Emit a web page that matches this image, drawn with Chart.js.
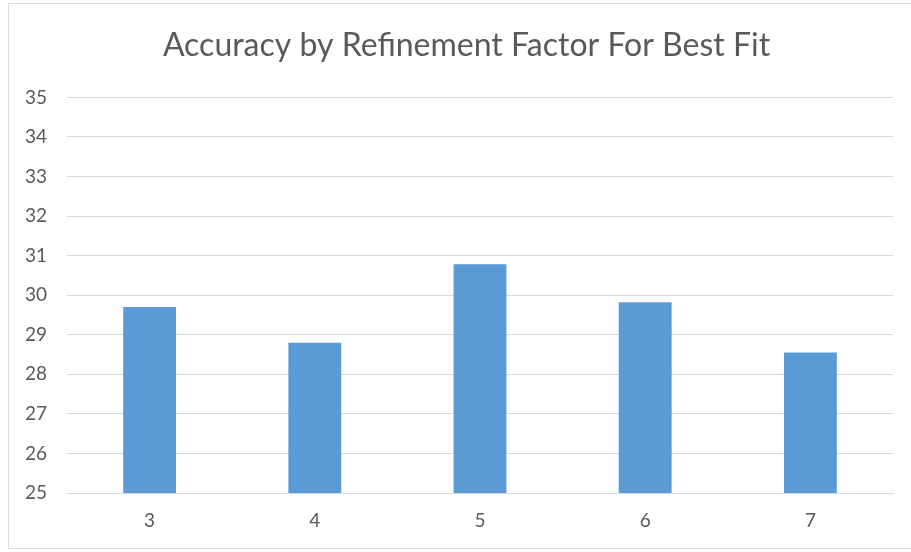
<!DOCTYPE html>
<html>
<head>
<meta charset="utf-8">
<script src="https://cdn.jsdelivr.net/npm/chart.js@4"></script>
<style>
  html, body { margin: 0; padding: 0; background: #fff; }
  #wrap { position: relative; width: 911px; height: 552px; }
  #frame {
    position: absolute; left: 8px; top: 3px; width: 920px; height: 546px;
    border: 1px solid #d9d9d9; box-sizing: border-box; pointer-events: none;
  }
</style>
</head>
<body>
<div id="wrap">
  <canvas id="myChart" width="911" height="552"></canvas>
  <div id="frame"></div>
</div>
<script>
  const factors = ["3", "4", "5", "6", "7"];
  const accuracy = [29.70, 28.80, 30.78, 29.82, 28.55];
  const yTicks = { min: 25, max: 35, step: 1 };

  const textColor = "#595959";
  const gridColor = "#d9d9d9";
  const fontFamily = "Lato, 'Open Sans', sans-serif";

  // title is centred over the plot area rather than the whole canvas
  const titleOverPlot = {
    id: "titleOverPlot",
    afterLayout(chart) {
      const t = chart.titleBlock;
      if (t) {
        t.left = chart.chartArea.left - 27;
        t.right = chart.chartArea.right;
      }
    },
  };

  const ctx = document.getElementById("myChart").getContext("2d");

  const chart = new Chart(ctx, {
    type: "bar",
    data: {
      labels: factors,
      datasets: [
        {
          label: "Accuracy",
          data: accuracy,
          backgroundColor: "#5b9bd5",
          borderWidth: 0,
          categoryPercentage: 1,
          barPercentage: 0.32,
        },
      ],
    },
    options: {
      responsive: false,
      animation: false,
      layout: {
        padding: { left: 0, right: 18, top: 0, bottom: 0 },
      },
      plugins: {
        legend: { display: false },
        tooltip: { enabled: false },
        title: {
          display: true,
          text: "Accuracy by Refinement Factor For Best Fit",
          color: textColor,
          font: { family: fontFamily, size: 32, weight: "normal", lineHeight: 1.2 },
          padding: { top: 26, bottom: 33 },
        },
      },
      scales: {
        x: {
          grid: { display: false, drawTicks: false },
          border: { display: true, color: gridColor, width: 1 },
          ticks: {
            color: textColor,
            font: { family: fontFamily, size: 19 },
            padding: 16,
          },
          afterFit: (scale) => {
            scale.height = 59;
          },
        },
        y: {
          min: yTicks.min,
          max: yTicks.max,
          border: { display: false },
          grid: { color: gridColor, drawTicks: false },
          ticks: {
            stepSize: yTicks.step,
            color: textColor,
            font: { family: fontFamily, size: 19 },
            padding: 20,
          },
          afterFit: (scale) => {
            scale.width = 67;
          },
        },
      },
    },
    plugins: [titleOverPlot],
  });
</script>
</body>
</html>
